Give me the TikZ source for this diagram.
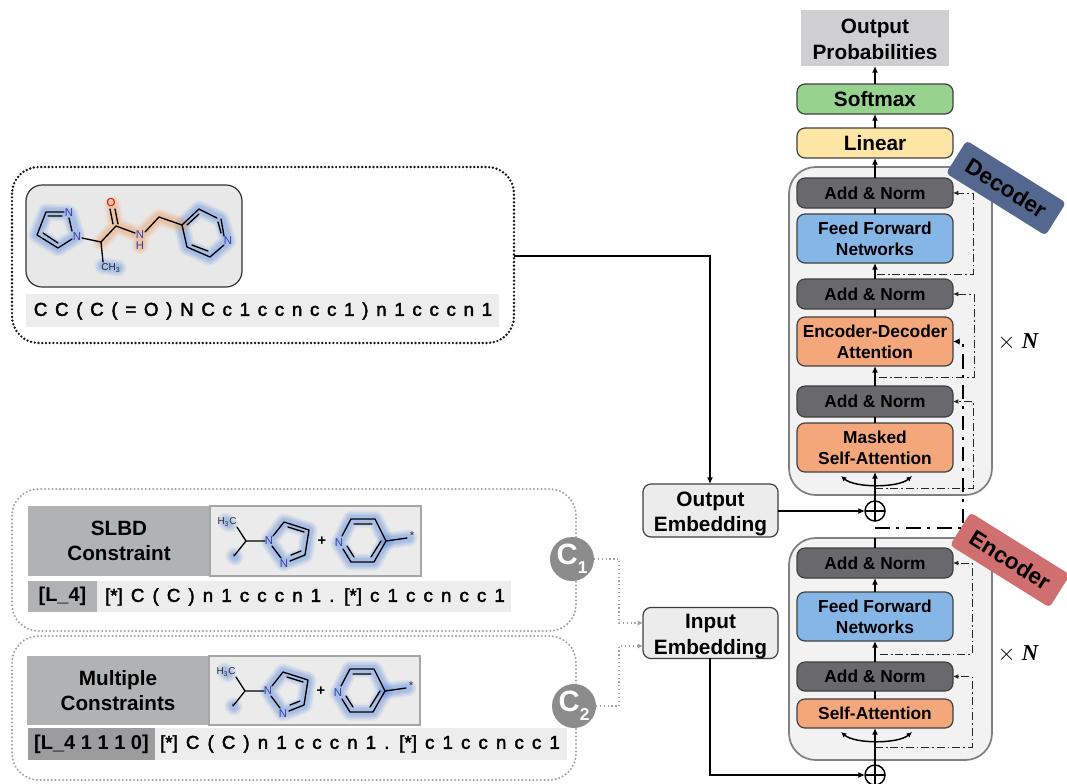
\documentclass[tikz,border=0pt]{standalone}
\usepackage{fontspec}
\setmainfont{Liberation Sans}
\newfontfamily\serifbit{Liberation Serif}
\newfontfamily\medfont[FakeBold=2.2]{Liberation Sans}
\usetikzlibrary{arrows.meta,shapes.geometric}
\definecolor{anorm}{HTML}{69686C}
\definecolor{ffn}{HTML}{85B6E6}
\definecolor{attn}{HTML}{F4A77B}
\definecolor{soft}{HTML}{97D38F}
\definecolor{lin}{HTML}{FDE6A5}
\definecolor{cont}{HTML}{F3F2F3}
\definecolor{emb}{HTML}{ECECEC}
\definecolor{outp}{HTML}{CFCFD1}
\definecolor{glowb}{HTML}{5B8CE0}
\definecolor{glowo}{HTML}{F09A5A}
\definecolor{atomn}{HTML}{3A3FB0}
\definecolor{barl}{HTML}{EDEDED}
\definecolor{grayb}{HTML}{B1B2B4}
\definecolor{grayc}{HTML}{9C9C9E}
\definecolor{dott}{HTML}{A0A0A0}
\definecolor{dectagc}{HTML}{54688F}
\definecolor{enctagc}{HTML}{CF6F70}
\newcommand\fs[2]{\fontsize{#1}{#2}\selectfont}
\tikzset{
  x=0.75pt,y=-0.75pt,
  every node/.style={inner sep=0pt,outer sep=0pt,align=center,text=black},
  block/.style={draw=black!75,line width=0.9pt,rounded corners=6pt,font=\bfseries\fs{13}{16}},
  bigblock/.style={block,font=\bfseries\fs{15.6}{19}},
  container/.style={draw=black!50,fill=cont,line width=1.3pt,rounded corners=20pt},
  flow/.style={line width=1.1pt,draw=black,-{Latex[length=5pt,width=4.5pt]}},
  plain/.style={line width=1.1pt,draw=black},
  resid/.style={line width=0.6pt,draw=black!85,dash pattern=on 6pt off 2.2pt on 1.2pt off 2.2pt,-{Latex[length=4pt,width=3.6pt]}},
  thickresid/.style={line width=1.9pt,draw=black,dash pattern=on 11pt off 5pt on 2.2pt off 5pt,-{Latex[length=5pt,width=5pt]}},
  dotline/.style={line width=0.9pt,draw=dott,dotted,-{Latex[length=4pt,width=4pt]}},
  tag/.style={rounded corners=3pt,minimum width=88pt,minimum height=29pt,font=\bfseries\fs{17}{18},rotate=-32},
  bond/.style={line width=1pt,draw=black,line join=round,line cap=round},
  atom/.style={font=\fs{8.5}{9},text=atomn},
  plusmark/.style={draw=black,line width=1.1pt,circle,minimum size=15pt},
  cnode/.style={circle,fill=black!45,minimum size=33pt,text=white,font=\bfseries\fs{22}{22}},
  smiles/.style={font=\medfont\fs{14}{16}},
  dotbox/.style={line cap=round,dash pattern=on 0pt off 2.8pt,rounded corners=20pt},
}
\newcommand\bx[7]{\node[#6,minimum width={(#4-(#2))*0.75pt},minimum height={(#5-(#3))*0.75pt}] (#1) at ({(#2+#4)/2},{(#3+#5)/2}) {#7};}
\newcommand\glowpath[2]{\foreach \wd/\op in {17/.10,14/.12,11/.15,8/.18}{\draw[#1,line width=\wd*0.75pt,opacity=\op,line cap=round,line join=round] #2;}}
\newcommand\fragment[1]{%
  \glowpath{glowb}{(269,541)--(284,522)--(309,530)--(305,555)--(284,563)--cycle}
  \glowpath{glowb}{(339,543)--(351,519)--(375,519)--(386,541)--(374,562)--(351,562)--cycle}
  \glowpath{glowb}{(386,541)--(409,538)}
  \glowpath{glowb}{(226,521)--(229,524)}
  \glowpath{glowb}{(234,556)--(235,557)}
  \draw[bond] (237,527)--(246,541)--(234,556) (246,541)--(265,541);
  \draw[bond] (273,536)--(284,522)--(309,530)--(305,555)--(290,561);
  \draw[bond] (288,527)--(304,532) (301,551)--(291,555) (281,558)--(272,546);
  \draw[bond] (342,536)--(351,519)--(375,519)--(386,541)--(374,562)--(351,562)--(343,549);
  \draw[bond] (354,524)--(372,524) (381,541)--(371,557) (354,557)--(347,546);
  \draw[bond] (386,541)--(407,538);
  \node[atom,text=black!80,font=\fs{7.5}{8}] (#1h) at (227,522) {H\textsubscript{3}C};
  \node[atom] (#1a) at (269,541) {N};
  \node[atom] (#1b) at (284,564) {N};
  \node[atom] (#1c) at (339,543) {N};
  \node[font=\bfseries\fs{11}{11}] (#1p) at (322,541) {+};
  \node[atom,text=black!80] (#1s) at (412,536) {*};
  \node[atom,text=black!80] (#1d) at (234,555) {.};
}
\begin{document}
\begin{tikzpicture}
\useasboundingbox (0,0) rectangle (1067,783);
\fill[white] (0,0) rectangle (1067,783);
% left: target molecule
\draw[black!90,line width=2pt,dotbox] (12,167) rectangle (514,343);
\bx{molbox}{26}{185}{242}{287}{draw=black!80,fill=black!9,line width=0.9pt,rounded corners=12pt}{}
\glowpath{glowb}{(77,236)--(69,213)--(46,212)--(37,235)--(58,248)--cycle}
\glowpath{glowb}{(182,225)--(199,209)--(221,219)--(228,241)--(210,257)--(187,247)--cycle}
\glowpath{glowb}{(103,266)--(118,268)}
\glowpath{glowo}{(112,204)--(116,226)--(140,235)--(159,217)--(182,225) (140,235)--(140,246) (116,226)--(101,242)}
\draw[bond] (72,231)--(69,218) (64,212)--(46,212)--(37,235)--(58,248)--(72,239);
\draw[bond] (48,216)--(62,216) (43,233)--(58,243);
\draw[bond] (82,238)--(101,242)--(116,226)--(135,233) (101,242)--(103,262);
\draw[bond] (113,224)--(110,209) (118,224)--(115,209);
\draw[bond] (145,232)--(159,217)--(182,225)--(199,209)--(217,218) (224,236)--(221,219) (218,222)--(221,233);
\draw[bond] (182,225)--(187,247)--(210,257)--(224,245);
\draw[bond] (187,225)--(199,214) (192,245)--(208,251);
\node[atom] (m1) at (77,237) {N};
\node[atom] (m2) at (69,213) {N};
\node[atom] (m3) at (140,235) {N};
\node[atom] (m4) at (140,246) {H};
\node[atom] (m5) at (228,241) {N};
\node[atom,text=red!85!black] (m6) at (111,203) {O};
\node[atom,text=black!85,font=\fs{7.5}{8}] (m7) at (111,268) {CH\textsubscript{3}};
\bx{bartop}{26}{294}{499}{327}{fill=barl}{}
\node[smiles] (s0) at (263,311) {\spaceskip=5.8pt C C ( C ( = O ) N C c 1 c c n c c 1 ) n 1 c c c n 1};
% left: constraints
\draw[dott,line width=1.7pt,dotbox] (12,489) rectangle (576,631);
\draw[dott,line width=1.7pt,dotbox] (12,636) rectangle (576,780);
\bx{slbd}{28}{506}{210}{576}{fill=grayb,font=\bfseries\fs{15.5}{19}}{SLBD\\Constraint}
\bx{slbdimg}{210}{506}{421}{576}{fill=black!8,draw=black!35,line width=0.8pt}{}
\bx{barA}{28}{581}{511}{612}{fill=barl}{}
\bx{barAd}{28}{581}{97}{612}{fill=grayb,font=\bfseries\fs{15}{16}}{[L\_4]}
\node[smiles] (s1) at (305,597) {\spaceskip=6.1pt [*] C ( C ) n 1 c c c n 1 . [*] c 1 c c n c c 1};
\begin{scope}
\fragment{fa}
\end{scope}
\bx{multi}{27}{656}{209}{725}{fill=grayb,font=\bfseries\fs{15.5}{19}}{Multiple\\Constraints}
\bx{multiimg}{209}{656}{420}{725}{fill=black!8,draw=black!35,line width=0.8pt}{}
\bx{barB}{28}{728}{567}{760}{fill=barl}{}
\bx{barBd}{28}{728}{155}{760}{fill=grayc,font=\bfseries\fs{15}{16}}{[L\_4 1 1 1 0]}
\node[smiles] (s2) at (360,744) {\spaceskip=6.1pt [*] C ( C ) n 1 c c c n 1 . [*] c 1 c c n c c 1};
\begin{scope}[shift={(-1,150)}]
\fragment{fb}
\end{scope}
\node[cnode] (c1) at (572,559) {C\raisebox{-7pt}{\fs{13}{14}1}};
\node[cnode] (c2) at (574,706) {C\raisebox{-7pt}{\fs{13}{14}2}};
% containers
\bx{dec}{789}{167}{992}{495}{container}{}
\bx{enc}{789}{538}{992}{760}{container}{}
% top stack
\bx{outprob}{801}{10}{949}{66}{fill=outp,font=\bfseries\fs{15.6}{19}}{\rule{0pt}{12.9pt}Output\\Probabilities}
\bx{softmax}{797}{84}{953}{114}{bigblock,fill=soft}{Softmax}
\bx{linear}{797}{128}{953}{158}{bigblock,fill=lin}{Linear}
% decoder stack
\bx{dA}{797}{178}{953}{208}{block,fill=anorm}{Add \& Norm}
\bx{dF}{797}{214}{953}{263}{block,fill=ffn}{Feed Forward\\Networks}
\bx{dB}{797}{279}{953}{309}{block,fill=anorm}{Add \& Norm}
\bx{dE}{797}{317}{953}{366}{block,fill=attn}{Encoder-Decoder\\Attention}
\bx{dC}{797}{386}{953}{417}{block,fill=anorm}{Add \& Norm}
\bx{dM}{797}{423}{953}{472}{block,fill=attn}{Masked\\Self-Attention}
% encoder stack
\bx{eA}{797}{548}{953}{578}{block,fill=anorm}{Add \& Norm}
\bx{eF}{797}{592}{953}{641}{block,fill=ffn}{Feed Forward\\Networks}
\bx{eB}{797}{662}{953}{691}{block,fill=anorm}{Add \& Norm}
\bx{eS}{797}{699}{953}{728}{block,fill=attn}{Self-Attention}
% embeddings
\bx{oemb}{643}{484}{778}{537}{bigblock,fill=emb}{\rule{0pt}{16pt}Output\\Embedding}
\bx{iemb}{643}{608}{778}{658}{bigblock,fill=emb}{\rule{0pt}{16pt}Input\\Embedding}
% tags
\node[tag,fill=dectagc] (dectag) at (1006,188) {Decoder};
\node[tag,fill=enctagc] (enctag) at (1010,560) {Encoder};
% plus
\node[plusmark] (pt) at (875,511) {};
\node[plusmark] (pb) at (875,775) {};
\draw[line width=1.1pt] (pt.north)--(pt.south) (pt.west)--(pt.east) (pb.north)--(pb.south) (pb.west)--(pb.east);
% main flow
\draw[flow] (softmax.north)--(outprob.south);
\draw[flow] (linear.north)--(softmax.south);
\draw[flow] (dA.north)--(linear.south);
\draw[plain] (dF.north)--(dA.south);
\draw[flow] (dB.north)--(dF.south);
\draw[plain] (dE.north)--(dB.south);
\draw[flow] (dC.north)--(dE.south);
\draw[plain] (dM.north)--(dC.south);
\draw[flow] (pt.north)--(dM.south);
\draw[flow] (eF.north)--(eA.south);
\draw[flow] (eB.north)--(eF.south);
\draw[plain] (eS.north)--(eB.south);
\draw[flow] (pb.north)--(eS.south);
\coordinate (eTop) at (875,538);
\draw[plain] (eA.north)--(eTop);
% embeddings connections
\coordinate (junction) at (710,256);
\coordinate (molR) at (514,256);
\draw[flow] (molR)--(junction)--(oemb.north-|junction);
\draw[flow] (oemb.east|-pt)--(pt.west);
\coordinate (iembD) at (710,658);
\draw[flow] (iembD)|-(pb.west);
% residuals
\coordinate (r1) at (875,488); \coordinate (r1b) at (973,488);
\draw[resid] (r1)--(r1b)|-(dC.east);
\coordinate (r2) at (879,377); \coordinate (r2b) at (974,377);
\draw[resid] (r2)--(r2b)|-(dB.east);
\coordinate (r3) at (877,274); \coordinate (r3b) at (973,274);
\draw[resid] (r3)--(r3b)|-(dA.east);
\coordinate (r4) at (875,747); \coordinate (r4b) at (972,747);
\draw[resid] (r4)--(r4b)|-(eB.east);
\coordinate (r5) at (880,654); \coordinate (r5b) at (972,654);
\draw[resid] (r5)--(r5b)|-(eA.east);
% encoder to decoder
\coordinate (x0) at (875,528); \coordinate (x1) at (963,528);
\draw[thickresid] (x0)--(x1)|-(dE.east);
% bypass curves
\coordinate (ma) at (841,476); \coordinate (mb) at (912,476);
\draw[line width=1.1pt,{Latex[length=4pt,width=4pt]}-{Latex[length=4pt,width=4pt]}] (ma) .. controls (855,488) and (898,488) .. (mb);
\coordinate (sa) at (841,732); \coordinate (sb) at (912,732);
\draw[line width=1.1pt,{Latex[length=4pt,width=4pt]}-{Latex[length=4pt,width=4pt]}] (sa) .. controls (855,744) and (898,744) .. (sb);
% dotted connectors
\coordinate (dj1) at (619,559); \coordinate (dj2) at (619,706);
\coordinate (ie1) at (643,623); \coordinate (ie2) at (643,646);
\draw[dotline] (c1.east)--(dj1)|-(ie1);
\draw[dotline] (c2.east)--(dj2)|-(ie2);
% times N
\node[font=\fs{17}{18}] (tn1) at (1018,342) {$\times$ {\serifbit\bfseries\itshape N}};
\node[font=\fs{17}{18}] (tn2) at (1018,654) {$\times$ {\serifbit\bfseries\itshape N}};
\end{tikzpicture}
\end{document}
